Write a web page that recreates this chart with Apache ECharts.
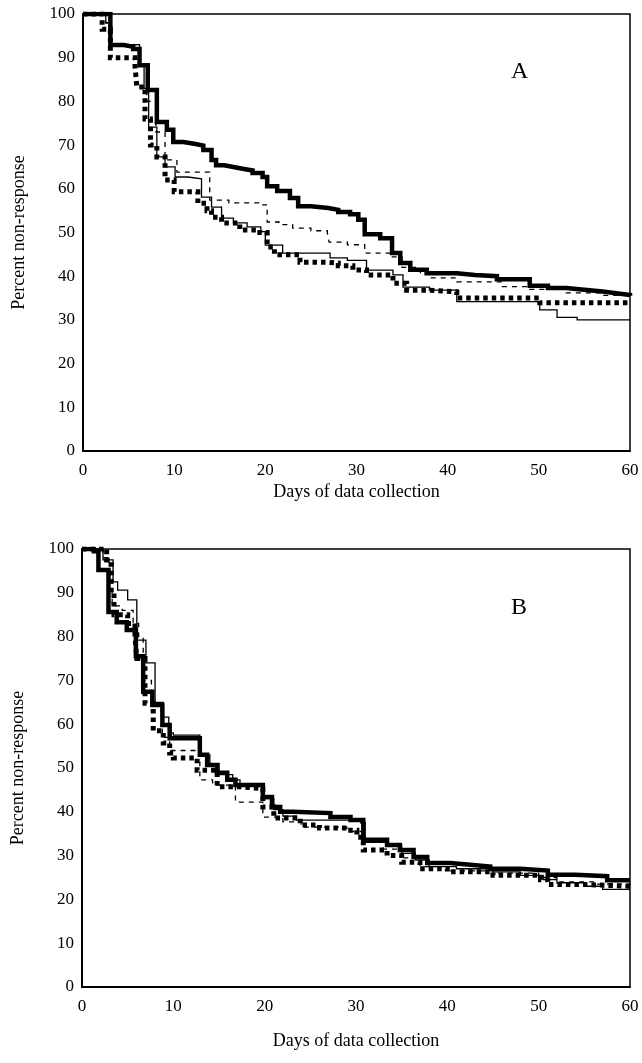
<!DOCTYPE html>
<html><head><meta charset="utf-8">
<script src="https://cdn.jsdelivr.net/npm/echarts@6/dist/echarts.min.js"></script>
<style>html,body{margin:0;padding:0;background:#fff}#c{width:642px;height:1063px}</style>
</head><body><div id="c"></div>
<script>
const panelLabels = ['A', 'B'];
const xTitle = 'Days of data collection';
const yTitle = 'Percent non-response';
const xTicks = [0, 10, 20, 30, 40, 50, 60];
const yTicks = [0, 10, 20, 30, 40, 50, 60, 70, 80, 90, 100];

// Panel A: [day, percent] step points
const aThick = [[0,100],[3,92.9],[4.5,92.5],[5.5,92],[6.2,88.3],[7.1,82.6],[8.1,75.3],[9.2,73.5],[9.9,70.7],[11,70.3],[12.2,69.9],[13.2,68.9],[14.1,66.6],[14.6,65.4],[15.5,65],[16.5,64.6],[17.5,64.2],[18.6,63.6],[19.7,62.7],[20.2,60.6],[21.3,59.5],[22.7,57.9],[23.6,56],[25,55.6],[26.9,55.2],[28,54.7],[29.3,54.2],[30.2,52.9],[30.9,49.6],[32.6,48.7],[33.9,45.3],[34.8,43],[35.9,41.5],[37.7,40.7],[41,40.3],[43,40],[45.4,39.3],[49,37.8],[51,37.3],[53,36.9],[55,36.5],[57,36.1],[58.5,35.7],[60,35.5]];
const aThin = [[0,100],[2.5,98],[3,93],[6.2,88.5],[6.7,83],[7.2,74.1],[8.1,67.3],[9,65],[10.1,62.7],[11.5,62.3],[13,58.1],[14.1,55.8],[15.2,53.3],[16.5,52.2],[18,51.3],[19.5,50.2],[20,47.1],[21.9,45.3],[27.1,44.2],[29,43.6],[31.1,41.4],[34,40.3],[35.1,37.5],[38,36.8],[41,34.2],[50.1,32.3],[52,30.6],[54.2,30],[60,30]];
const aDashed = [[0,100],[2.5,98],[3,93],[6.2,88.3],[7,80],[8,73],[9,66.6],[10.3,63.8],[13.9,57.4],[16,56.8],[19.7,56.3],[20.2,52.4],[21.5,51.8],[23,51],[25,50.4],[26.8,49.9],[27,47.8],[29,47.2],[30.9,45.3],[33.7,44.4],[35,42],[37,40.5],[38,39.6],[41,38.7],[46,37.6],[49,37],[53,36.2],[57,35.6],[60,35.3]];
const aDotted = [[0,100],[2.1,96.5],[3,90],[5.7,88.3],[5.9,83.3],[6.8,76],[7.4,70],[8.1,67.3],[9,62],[10,59.3],[12.6,56.7],[13.6,55],[14.1,53.5],[15.2,52.2],[17.2,50.6],[19.4,50],[20.2,46.7],[21,44.9],[23.8,43.2],[26.8,43],[28,42.4],[29.6,41.4],[31.1,40.3],[34,38.4],[35.5,36.8],[38,36.4],[41,35],[50.1,33.9],[60,33.9]];

// Panel B
const bThick = [[0,100],[1.3,99.5],[1.8,95.2],[2.9,85.6],[3.8,83.3],[4.9,81.5],[5.9,75.5],[6.7,67.4],[7.7,64.4],[8.8,59.8],[9.6,56.8],[12.9,53],[13.7,50.7],[14.8,48.9],[15.9,47.3],[16.8,46.1],[19.8,43.4],[20.8,41.1],[21.7,40],[23.1,39.7],[27.2,38.8],[29.4,38.1],[30.8,33.6],[33.4,32.4],[34.8,31.3],[36.3,29.7],[37.8,28.3],[40.3,27.9],[42.5,27.5],[44.7,27],[48,26.6],[51,25.6],[54,25.3],[57.5,24.4],[60,24.4]];
const bThin = [[0,100],[2.3,97.5],[3.4,92.5],[3.9,90.6],[5,88.4],[6,79.2],[7,74],[8,65],[8.9,61.6],[9.5,58],[10,57.5],[12.9,53],[14,51],[15,48.5],[16.5,47.3],[17.3,46.2],[19.8,43],[21,40.5],[22,39],[23.5,38.1],[30.5,37.5],[31,33],[33.5,32.4],[35,30.5],[36.5,29],[38,27.5],[41,27],[45,26.3],[48,25.5],[50.5,24.5],[52,23.8],[55,23],[57,22.3],[60,22.3]];
const bDashed = [[0,100],[2.3,98],[3,94],[3.3,87],[4.4,86],[5.6,83],[6.2,80],[6.7,70],[7.6,63],[8.8,57],[9.6,54],[12.9,47.3],[14.3,46.1],[16.8,42.2],[19.8,38.8],[22,37.7],[24,36.5],[29,35.5],[30.8,33],[33,31.5],[35,29.5],[37,27.5],[40,26.5],[45,26],[50,25],[52,24],[56,23.5],[60,23.3]];
const bDotted = [[0,100],[2.7,97.5],[3.2,90],[3.5,85],[5,83],[5.8,80],[6,75],[6.9,64.8],[7.8,58.5],[8.9,55.7],[9.6,53.4],[10,52.3],[12.6,49.5],[14.8,45.7],[17.3,45.3],[19.8,41.1],[21,38.6],[23.9,37],[26,36.3],[29,35.8],[30.1,34.2],[30.8,31.3],[33.4,30],[35,28.5],[37,27],[40,26.3],[45,25.5],[50.2,24.5],[51,23.4],[55,23],[60,23]];

const FONT = 'Liberation Serif, Times New Roman, serif';
const chart = echarts.init(document.getElementById('c'), null, {renderer: 'canvas'});

function xAx(gi, gap) {
  return {
    gridIndex: gi, type: 'value', min: xTicks[0], max: xTicks[xTicks.length - 1], interval: 10,
    name: xTitle, nameLocation: 'middle', nameGap: gap,
    nameTextStyle: {fontFamily: FONT, fontSize: 18, color: '#000'},
    axisLine: {show: true, lineStyle: {color: '#000', width: 2}},
    axisTick: {show: false}, splitLine: {show: false},
    axisLabel: {fontFamily: FONT, fontSize: 17, color: '#000', margin: 11}
  };
}
function yAx(gi) {
  return {
    gridIndex: gi, type: 'value', min: yTicks[0], max: yTicks[yTicks.length - 1], interval: 10,
    name: yTitle, nameLocation: 'middle', nameGap: 55, nameRotate: 90,
    nameTextStyle: {fontFamily: FONT, fontSize: 18, color: '#000'},
    axisLine: {show: true, lineStyle: {color: '#000', width: 2}},
    axisTick: {show: false}, splitLine: {show: false},
    axisLabel: {fontFamily: FONT, fontSize: 17, color: '#000', margin: 8}
  };
}
function ser(data, gi, kind) {
  const styles = {
    thick: {width: 4.5, type: 'solid'},
    thin: {width: 1.3, type: 'solid'},
    dashed: {width: 1.3, type: [5, 5]},
    dotted: {width: 5, type: [4.5, 4]}
  };
  return {
    type: 'line', step: 'end', xAxisIndex: gi, yAxisIndex: gi, data: data,
    showSymbol: false, symbol: 'none', silent: true, animation: false,
    lineStyle: Object.assign({color: '#000', cap: 'butt', join: 'miter'}, styles[kind])
  };
}

chart.setOption({
  animation: false,
  backgroundColor: '#fff',
  grid: [
    {left: 83, top: 14, width: 547, height: 437, show: true, borderColor: '#000', borderWidth: 1.5},
    {left: 82, top: 549, width: 548, height: 438, show: true, borderColor: '#000', borderWidth: 1.5}
  ],
  xAxis: [xAx(0, 32), xAx(1, 45)],
  yAxis: [yAx(0), yAx(1)],
  graphic: [
    {type: 'text', left: 511, top: 60, style: {text: panelLabels[0], font: '24px ' + FONT, fill: '#000'}},
    {type: 'text', left: 511, top: 596, style: {text: panelLabels[1], font: '24px ' + FONT, fill: '#000'}}
  ],
  series: [
    ser(aThin, 0, 'thin'), ser(aDashed, 0, 'dashed'), ser(aDotted, 0, 'dotted'), ser(aThick, 0, 'thick'),
    ser(bThin, 1, 'thin'), ser(bDashed, 1, 'dashed'), ser(bDotted, 1, 'dotted'), ser(bThick, 1, 'thick')
  ]
});
</script>
</body></html>
